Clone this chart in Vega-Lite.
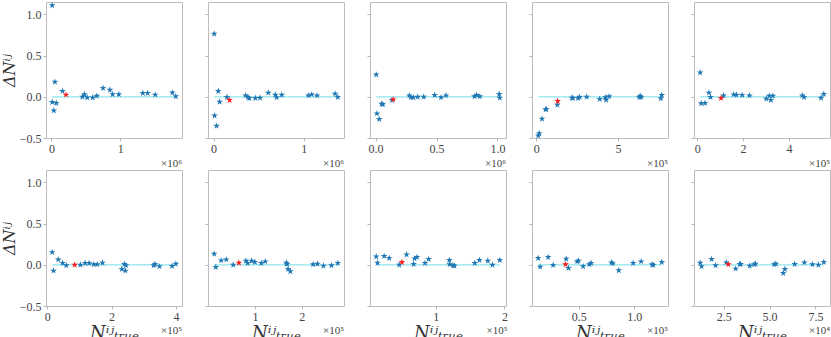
{
"padding":{"left":0,"top":1,"right":2,"bottom":0},
"background":"white",
"config":{
 "view":{"stroke":"#bdbdbd","strokeWidth":1},
 "axis":{"domain":false,"grid":false,"tickColor":"#b5b5b5","tickSize":3,"labelFont":"Liberation Serif","labelFontSize":12,"labelColor":"#444444","labelPadding":2,"titleFont":"DejaVu Serif","titleFontStyle":"italic","titleFontWeight":"normal","titleColor":"#333333","titleFontSize":16},
 "title":{"orient":"bottom","anchor":"end","baseline":"middle","font":"Liberation Serif","fontSize":11,"fontWeight":"normal","color":"#444444","offset":0},
 "point":{"shape":"M0,-1L0.2245,-0.309L0.951,-0.309L0.363,0.118L0.588,0.809L0,0.382L-0.588,0.809L-0.363,0.118L-0.951,-0.309L-0.2245,-0.309Z","filled":true,"size":50,"opacity":1}
},
"datasets":{"one":[{"k":1}],"pts":[
{"b":1,"x":10000,"y":1.11,"r":0},{"b":1,"x":50000,"y":0.18,"r":0},{"b":1,"x":10000,"y":-0.065,"r":0},{"b":1,"x":70000,"y":-0.077,"r":0},{"b":1,"x":34000,"y":-0.167,"r":0},{"b":1,"x":160000,"y":0.07,"r":0},{"b":1,"x":210000,"y":0.025,"r":1},{"b":1,"x":450000,"y":0.0,"r":0},{"b":1,"x":480000,"y":0.03,"r":0},{"b":1,"x":520000,"y":-0.01,"r":0},{"b":1,"x":600000,"y":-0.01,"r":0},{"b":1,"x":660000,"y":0.01,"r":0},{"b":1,"x":750000,"y":0.105,"r":0},{"b":1,"x":850000,"y":0.085,"r":0},{"b":1,"x":890000,"y":0.03,"r":0},{"b":1,"x":980000,"y":0.03,"r":0},{"b":1,"x":1330000,"y":0.045,"r":0},{"b":1,"x":1400000,"y":0.045,"r":0},{"b":1,"x":1510000,"y":0.025,"r":0},{"b":1,"x":1760000,"y":0.05,"r":0},{"b":1,"x":1810000,"y":0.005,"r":0},
{"b":2,"x":7000,"y":0.764,"r":0},{"b":2,"x":52000,"y":0.069,"r":0},{"b":2,"x":67000,"y":-0.061,"r":0},{"b":2,"x":11000,"y":-0.228,"r":0},{"b":2,"x":33000,"y":-0.354,"r":0},{"b":2,"x":148000,"y":-0.004,"r":0},{"b":2,"x":178000,"y":-0.041,"r":1},{"b":2,"x":356000,"y":0.016,"r":0},{"b":2,"x":381000,"y":-0.004,"r":0},{"b":2,"x":396000,"y":-0.02,"r":0},{"b":2,"x":463000,"y":-0.016,"r":0},{"b":2,"x":515000,"y":-0.012,"r":0},{"b":2,"x":607000,"y":0.049,"r":0},{"b":2,"x":685000,"y":0.024,"r":0},{"b":2,"x":700000,"y":-0.008,"r":0},{"b":2,"x":756000,"y":0.024,"r":0},{"b":2,"x":1052000,"y":0.016,"r":0},{"b":2,"x":1089000,"y":0.028,"r":0},{"b":2,"x":1148000,"y":0.016,"r":0},{"b":2,"x":1348000,"y":0.037,"r":0},{"b":2,"x":1378000,"y":-0.004,"r":0},
{"b":3,"x":5000,"y":0.268,"r":0},{"b":3,"x":11000,"y":-0.203,"r":0},{"b":3,"x":30000,"y":-0.272,"r":0},{"b":3,"x":49000,"y":-0.085,"r":0},{"b":3,"x":60000,"y":-0.093,"r":0},{"b":3,"x":134000,"y":-0.041,"r":0},{"b":3,"x":145000,"y":-0.033,"r":1},{"b":3,"x":277000,"y":0.016,"r":0},{"b":3,"x":290000,"y":-0.008,"r":0},{"b":3,"x":310000,"y":-0.008,"r":0},{"b":3,"x":345000,"y":0.0,"r":0},{"b":3,"x":395000,"y":0.0,"r":0},{"b":3,"x":485000,"y":0.02,"r":0},{"b":3,"x":537000,"y":-0.008,"r":0},{"b":3,"x":578000,"y":0.016,"r":0},{"b":3,"x":811000,"y":0.004,"r":0},{"b":3,"x":830000,"y":0.02,"r":0},{"b":3,"x":855000,"y":0.004,"r":0},{"b":3,"x":1014000,"y":0.033,"r":0},{"b":3,"x":1019000,"y":-0.012,"r":0},
{"b":4,"x":12000,"y":-0.472,"r":0},{"b":4,"x":18000,"y":-0.443,"r":0},{"b":4,"x":35000,"y":-0.268,"r":0},{"b":4,"x":57000,"y":-0.154,"r":0},{"b":4,"x":61000,"y":-0.15,"r":0},{"b":4,"x":129000,"y":-0.098,"r":0},{"b":4,"x":131000,"y":-0.053,"r":1},{"b":4,"x":218000,"y":-0.012,"r":0},{"b":4,"x":224000,"y":-0.016,"r":0},{"b":4,"x":255000,"y":-0.016,"r":0},{"b":4,"x":265000,"y":-0.004,"r":0},{"b":4,"x":308000,"y":0.0,"r":0},{"b":4,"x":388000,"y":-0.028,"r":0},{"b":4,"x":422000,"y":-0.008,"r":0},{"b":4,"x":427000,"y":-0.037,"r":0},{"b":4,"x":445000,"y":0.004,"r":0},{"b":4,"x":629000,"y":-0.004,"r":0},{"b":4,"x":635000,"y":0.008,"r":0},{"b":4,"x":641000,"y":-0.004,"r":0},{"b":4,"x":761000,"y":-0.02,"r":0},{"b":4,"x":767000,"y":0.02,"r":0},
{"b":5,"x":13000,"y":0.293,"r":0},{"b":5,"x":17500,"y":-0.081,"r":0},{"b":5,"x":34000,"y":-0.077,"r":0},{"b":5,"x":51000,"y":0.049,"r":0},{"b":5,"x":58000,"y":-0.004,"r":0},{"b":5,"x":104000,"y":-0.016,"r":1},{"b":5,"x":115000,"y":0.016,"r":0},{"b":5,"x":159000,"y":0.028,"r":0},{"b":5,"x":171000,"y":0.024,"r":0},{"b":5,"x":196000,"y":0.02,"r":0},{"b":5,"x":228000,"y":0.016,"r":0},{"b":5,"x":301000,"y":-0.024,"r":0},{"b":5,"x":314000,"y":0.012,"r":0},{"b":5,"x":321000,"y":-0.041,"r":0},{"b":5,"x":330000,"y":0.012,"r":0},{"b":5,"x":458000,"y":0.016,"r":0},{"b":5,"x":466000,"y":-0.004,"r":0},{"b":5,"x":540000,"y":-0.012,"r":0},{"b":5,"x":552000,"y":0.033,"r":0},
{"b":6,"x":15700,"y":0.152,"r":0},{"b":6,"x":19800,"y":-0.072,"r":0},{"b":6,"x":34500,"y":0.064,"r":0},{"b":6,"x":48000,"y":0.02,"r":0},{"b":6,"x":59500,"y":-0.008,"r":0},{"b":6,"x":85600,"y":0.0,"r":1},{"b":6,"x":103400,"y":0.0,"r":0},{"b":6,"x":118000,"y":0.02,"r":0},{"b":6,"x":130500,"y":0.02,"r":0},{"b":6,"x":145000,"y":0.004,"r":0},{"b":6,"x":155600,"y":0.004,"r":0},{"b":6,"x":172000,"y":0.024,"r":0},{"b":6,"x":232000,"y":-0.052,"r":0},{"b":6,"x":240000,"y":0.008,"r":0},{"b":6,"x":243000,"y":-0.072,"r":0},{"b":6,"x":245000,"y":-0.008,"r":0},{"b":6,"x":331000,"y":-0.008,"r":0},{"b":6,"x":335000,"y":0.008,"r":0},{"b":6,"x":349000,"y":-0.02,"r":0},{"b":6,"x":388000,"y":-0.016,"r":0},{"b":6,"x":400000,"y":0.012,"r":0},
{"b":7,"x":12900,"y":0.132,"r":0},{"b":7,"x":16400,"y":-0.028,"r":0},{"b":7,"x":27900,"y":0.052,"r":0},{"b":7,"x":38600,"y":0.064,"r":0},{"b":7,"x":53600,"y":0.0,"r":0},{"b":7,"x":65700,"y":0.024,"r":1},{"b":7,"x":80700,"y":0.048,"r":0},{"b":7,"x":84300,"y":0.02,"r":0},{"b":7,"x":92900,"y":0.048,"r":0},{"b":7,"x":100000,"y":0.032,"r":0},{"b":7,"x":113600,"y":0.02,"r":0},{"b":7,"x":122100,"y":0.04,"r":0},{"b":7,"x":167100,"y":0.024,"r":0},{"b":7,"x":168600,"y":0.008,"r":0},{"b":7,"x":170700,"y":-0.052,"r":0},{"b":7,"x":175700,"y":-0.08,"r":0},{"b":7,"x":224300,"y":0.004,"r":0},{"b":7,"x":233600,"y":0.012,"r":0},{"b":7,"x":246400,"y":-0.012,"r":0},{"b":7,"x":263600,"y":-0.008,"r":0},{"b":7,"x":277100,"y":0.02,"r":0},
{"b":8,"x":13600,"y":0.1,"r":0},{"b":8,"x":15500,"y":0.024,"r":0},{"b":8,"x":25200,"y":0.104,"r":0},{"b":8,"x":32500,"y":0.08,"r":0},{"b":8,"x":47100,"y":0.0,"r":0},{"b":8,"x":51000,"y":0.032,"r":1},{"b":8,"x":57800,"y":0.124,"r":0},{"b":8,"x":68000,"y":0.008,"r":0},{"b":8,"x":69400,"y":0.076,"r":0},{"b":8,"x":72800,"y":0.092,"r":0},{"b":8,"x":84500,"y":0.02,"r":0},{"b":8,"x":89800,"y":0.068,"r":0},{"b":8,"x":119900,"y":0.056,"r":0},{"b":8,"x":120400,"y":0.004,"r":0},{"b":8,"x":125200,"y":-0.008,"r":0},{"b":8,"x":127200,"y":-0.012,"r":0},{"b":8,"x":156800,"y":0.02,"r":0},{"b":8,"x":163600,"y":0.056,"r":0},{"b":8,"x":175700,"y":0.048,"r":0},{"b":8,"x":182500,"y":0.0,"r":0},{"b":8,"x":193200,"y":0.056,"r":0},
{"b":9,"x":13300,"y":0.08,"r":0},{"b":9,"x":15100,"y":-0.024,"r":0},{"b":9,"x":22300,"y":0.092,"r":0},{"b":9,"x":26800,"y":-0.004,"r":0},{"b":9,"x":38600,"y":0.072,"r":0},{"b":9,"x":38000,"y":0.004,"r":1},{"b":9,"x":40700,"y":-0.04,"r":0},{"b":9,"x":48500,"y":0.04,"r":0},{"b":9,"x":49700,"y":0.048,"r":0},{"b":9,"x":53900,"y":-0.02,"r":0},{"b":9,"x":59600,"y":0.004,"r":0},{"b":9,"x":61100,"y":0.02,"r":0},{"b":9,"x":79500,"y":0.028,"r":0},{"b":9,"x":80700,"y":0.016,"r":0},{"b":9,"x":86100,"y":-0.068,"r":0},{"b":9,"x":99100,"y":0.02,"r":0},{"b":9,"x":106300,"y":0.04,"r":0},{"b":9,"x":116300,"y":0.004,"r":0},{"b":9,"x":117200,"y":-0.004,"r":0},{"b":9,"x":125000,"y":0.032,"r":0},
{"b":10,"x":12230,"y":0.024,"r":0},{"b":10,"x":12960,"y":-0.02,"r":0},{"b":10,"x":18430,"y":0.068,"r":0},{"b":10,"x":20620,"y":-0.008,"r":0},{"b":10,"x":26460,"y":0.028,"r":0},{"b":10,"x":27550,"y":0.004,"r":1},{"b":10,"x":31570,"y":-0.048,"r":0},{"b":10,"x":33760,"y":0.008,"r":0},{"b":10,"x":34300,"y":0.008,"r":0},{"b":10,"x":39230,"y":-0.012,"r":0},{"b":10,"x":41600,"y":0.004,"r":0},{"b":10,"x":42340,"y":0.012,"r":0},{"b":10,"x":52550,"y":0.004,"r":0},{"b":10,"x":53470,"y":0.012,"r":0},{"b":10,"x":57480,"y":-0.1,"r":0},{"b":10,"x":58390,"y":-0.052,"r":0},{"b":10,"x":63690,"y":0.008,"r":0},{"b":10,"x":68980,"y":0.028,"r":0},{"b":10,"x":73360,"y":0.004,"r":0},{"b":10,"x":76640,"y":0.0,"r":0},{"b":10,"x":79560,"y":0.032,"r":0}
]},
"data":{"name":"pts"},
"vconcat":[
{"hconcat":[
{"width":136,"height":136,"title":{"text":"×10⁶"},
 "encoding":{"x":{"field":"x","type":"quantitative","scale":{"domain":[-80000,1900000],"nice":false,"zero":false},"axis":{"values":[0,1000000],"labelExpr":"format(datum.value/1000000,'d')","title":null}},
  "y":{"field":"y","type":"quantitative","scale":{"domain":[-0.5,1.15],"nice":false,"zero":false},"axis":{"values":[-0.5,0,0.5,1],"format":".1f","labels":true,"title":"ΔNⁱʲ","titlePadding":2}}},
 "layer":[
  {"transform":[{"filter":"datum.b==1"}],"mark":{"type":"line","color":"#8ee5ee","strokeWidth":1.2},"encoding":{"y":{"datum":0,"type":"quantitative"}}},
  {"transform":[{"filter":"datum.b==1 && datum.r==0"}],"mark":{"type":"point","color":"#1f77b4"},"encoding":{}},
  {"transform":[{"filter":"datum.b==1 && datum.r==1"}],"mark":{"type":"point","color":"#ff1a1a"},"encoding":{}},
  {"data":{"name":"one"},"mark":{"type":"text","font":"Liberation Serif","fontSize":15,"color":"#333333","baseline":"middle"},"encoding":{"x":{"datum":910000,"type":"quantitative"},"y":{"datum":1.0,"type":"quantitative"},"text":{"value":"Bin 1"}}}
 ]},
{"width":136,"height":136,"title":{"text":"×10⁶"},
 "encoding":{"x":{"field":"x","type":"quantitative","scale":{"domain":[-62000,1447000],"nice":false,"zero":false},"axis":{"values":[0,1000000],"labelExpr":"format(datum.value/1000000,'d')","title":null}},
  "y":{"field":"y","type":"quantitative","scale":{"domain":[-0.5,1.15],"nice":false,"zero":false},"axis":{"values":[-0.5,0,0.5,1],"labels":false,"title":null}}},
 "layer":[
  {"transform":[{"filter":"datum.b==2"}],"mark":{"type":"line","color":"#8ee5ee","strokeWidth":1.2},"encoding":{"y":{"datum":0,"type":"quantitative"}}},
  {"transform":[{"filter":"datum.b==2 && datum.r==0"}],"mark":{"type":"point","color":"#1f77b4"},"encoding":{}},
  {"transform":[{"filter":"datum.b==2 && datum.r==1"}],"mark":{"type":"point","color":"#ff1a1a"},"encoding":{}},
  {"data":{"name":"one"},"mark":{"type":"text","font":"Liberation Serif","fontSize":15,"color":"#333333","baseline":"middle"},"encoding":{"x":{"datum":692500,"type":"quantitative"},"y":{"datum":1.0,"type":"quantitative"},"text":{"value":"Bin 2"}}}
 ]},
{"width":136,"height":136,"title":{"text":"×10⁶"},
 "encoding":{"x":{"field":"x","type":"quantitative","scale":{"domain":[-46000,1070000],"nice":false,"zero":false},"axis":{"values":[0,500000,1000000],"labelExpr":"format(datum.value/1000000,'.1f')","title":null}},
  "y":{"field":"y","type":"quantitative","scale":{"domain":[-0.5,1.15],"nice":false,"zero":false},"axis":{"values":[-0.5,0,0.5,1],"labels":false,"title":null}}},
 "layer":[
  {"transform":[{"filter":"datum.b==3"}],"mark":{"type":"line","color":"#8ee5ee","strokeWidth":1.2},"encoding":{"y":{"datum":0,"type":"quantitative"}}},
  {"transform":[{"filter":"datum.b==3 && datum.r==0"}],"mark":{"type":"point","color":"#1f77b4"},"encoding":{}},
  {"transform":[{"filter":"datum.b==3 && datum.r==1"}],"mark":{"type":"point","color":"#ff1a1a"},"encoding":{}},
  {"data":{"name":"one"},"mark":{"type":"text","font":"Liberation Serif","fontSize":15,"color":"#333333","baseline":"middle"},"encoding":{"x":{"datum":512000,"type":"quantitative"},"y":{"datum":1.0,"type":"quantitative"},"text":{"value":"Bin 3"}}}
 ]},
{"width":136,"height":136,"title":{"text":"×10⁵"},
 "encoding":{"x":{"field":"x","type":"quantitative","scale":{"domain":[-26000,805000],"nice":false,"zero":false},"axis":{"values":[0,500000],"labelExpr":"format(datum.value/100000,'d')","title":null}},
  "y":{"field":"y","type":"quantitative","scale":{"domain":[-0.5,1.15],"nice":false,"zero":false},"axis":{"values":[-0.5,0,0.5,1],"labels":false,"title":null}}},
 "layer":[
  {"transform":[{"filter":"datum.b==4"}],"mark":{"type":"line","color":"#8ee5ee","strokeWidth":1.2},"encoding":{"y":{"datum":0,"type":"quantitative"}}},
  {"transform":[{"filter":"datum.b==4 && datum.r==0"}],"mark":{"type":"point","color":"#1f77b4"},"encoding":{}},
  {"transform":[{"filter":"datum.b==4 && datum.r==1"}],"mark":{"type":"point","color":"#ff1a1a"},"encoding":{}},
  {"data":{"name":"one"},"mark":{"type":"text","font":"Liberation Serif","fontSize":15,"color":"#333333","baseline":"middle"},"encoding":{"x":{"datum":389500,"type":"quantitative"},"y":{"datum":1.0,"type":"quantitative"},"text":{"value":"Bin 4"}}}
 ]},
{"width":136,"height":136,"title":{"text":"×10⁵"},
 "encoding":{"x":{"field":"x","type":"quantitative","scale":{"domain":[-14000,579000],"nice":false,"zero":false},"axis":{"values":[0,200000,400000],"labelExpr":"format(datum.value/100000,'d')","title":null}},
  "y":{"field":"y","type":"quantitative","scale":{"domain":[-0.5,1.15],"nice":false,"zero":false},"axis":{"values":[-0.5,0,0.5,1],"labels":false,"title":null}}},
 "layer":[
  {"transform":[{"filter":"datum.b==5"}],"mark":{"type":"line","color":"#8ee5ee","strokeWidth":1.2},"encoding":{"y":{"datum":0,"type":"quantitative"}}},
  {"transform":[{"filter":"datum.b==5 && datum.r==0"}],"mark":{"type":"point","color":"#1f77b4"},"encoding":{}},
  {"transform":[{"filter":"datum.b==5 && datum.r==1"}],"mark":{"type":"point","color":"#ff1a1a"},"encoding":{}},
  {"data":{"name":"one"},"mark":{"type":"text","font":"Liberation Serif","fontSize":15,"color":"#333333","baseline":"middle"},"encoding":{"x":{"datum":282500,"type":"quantitative"},"y":{"datum":1.0,"type":"quantitative"},"text":{"value":"Bin 5"}}}
 ]}
],"spacing":26,"bounds":"flush"},
{"hconcat":[
{"width":136,"height":136,"title":{"text":"×10⁵","offset":-17},
 "encoding":{"x":{"field":"x","type":"quantitative","scale":{"domain":[-3500,419000],"nice":false,"zero":false},"axis":{"values":[0,200000,400000],"labelExpr":"format(datum.value/100000,'d')","title":"Nⁱʲₜᵣᵤₑ","titleFontSize":18,"titlePadding":2}},
  "y":{"field":"y","type":"quantitative","scale":{"domain":[-0.5,1.15],"nice":false,"zero":false},"axis":{"values":[-0.5,0,0.5,1],"format":".1f","labels":true,"title":"ΔNⁱʲ","titlePadding":2}}},
 "layer":[
  {"transform":[{"filter":"datum.b==6"}],"mark":{"type":"line","color":"#8ee5ee","strokeWidth":1.2},"encoding":{"y":{"datum":0,"type":"quantitative"}}},
  {"transform":[{"filter":"datum.b==6 && datum.r==0"}],"mark":{"type":"point","color":"#1f77b4"},"encoding":{}},
  {"transform":[{"filter":"datum.b==6 && datum.r==1"}],"mark":{"type":"point","color":"#ff1a1a"},"encoding":{}},
  {"data":{"name":"one"},"mark":{"type":"text","font":"Liberation Serif","fontSize":15,"color":"#333333","baseline":"middle"},"encoding":{"x":{"datum":207750,"type":"quantitative"},"y":{"datum":1.0,"type":"quantitative"},"text":{"value":"Bin 6"}}}
 ]},
{"width":136,"height":136,"title":{"text":"×10⁵","offset":-17},
 "encoding":{"x":{"field":"x","type":"quantitative","scale":{"domain":[-300,290300],"nice":false,"zero":false},"axis":{"values":[100000,200000],"labelExpr":"format(datum.value/100000,'d')","title":"Nⁱʲₜᵣᵤₑ","titleFontSize":18,"titlePadding":2}},
  "y":{"field":"y","type":"quantitative","scale":{"domain":[-0.5,1.15],"nice":false,"zero":false},"axis":{"values":[-0.5,0,0.5,1],"labels":false,"title":null}}},
 "layer":[
  {"transform":[{"filter":"datum.b==7"}],"mark":{"type":"line","color":"#8ee5ee","strokeWidth":1.2},"encoding":{"y":{"datum":0,"type":"quantitative"}}},
  {"transform":[{"filter":"datum.b==7 && datum.r==0"}],"mark":{"type":"point","color":"#1f77b4"},"encoding":{}},
  {"transform":[{"filter":"datum.b==7 && datum.r==1"}],"mark":{"type":"point","color":"#ff1a1a"},"encoding":{}},
  {"data":{"name":"one"},"mark":{"type":"text","font":"Liberation Serif","fontSize":15,"color":"#333333","baseline":"middle"},"encoding":{"x":{"datum":145000,"type":"quantitative"},"y":{"datum":1.0,"type":"quantitative"},"text":{"value":"Bin 7"}}}
 ]},
{"width":136,"height":136,"title":{"text":"×10⁵","offset":-17},
 "encoding":{"x":{"field":"x","type":"quantitative","scale":{"domain":[4600,202200],"nice":false,"zero":false},"axis":{"values":[100000,200000],"labelExpr":"format(datum.value/100000,'d')","title":"Nⁱʲₜᵣᵤₑ","titleFontSize":18,"titlePadding":2}},
  "y":{"field":"y","type":"quantitative","scale":{"domain":[-0.5,1.15],"nice":false,"zero":false},"axis":{"values":[-0.5,0,0.5,1],"labels":false,"title":null}}},
 "layer":[
  {"transform":[{"filter":"datum.b==8"}],"mark":{"type":"line","color":"#8ee5ee","strokeWidth":1.2},"encoding":{"y":{"datum":0,"type":"quantitative"}}},
  {"transform":[{"filter":"datum.b==8 && datum.r==0"}],"mark":{"type":"point","color":"#1f77b4"},"encoding":{}},
  {"transform":[{"filter":"datum.b==8 && datum.r==1"}],"mark":{"type":"point","color":"#ff1a1a"},"encoding":{}},
  {"data":{"name":"one"},"mark":{"type":"text","font":"Liberation Serif","fontSize":15,"color":"#333333","baseline":"middle"},"encoding":{"x":{"datum":103400,"type":"quantitative"},"y":{"datum":1.0,"type":"quantitative"},"text":{"value":"Bin 8"}}}
 ]},
{"width":136,"height":136,"title":{"text":"×10⁵","offset":-17},
 "encoding":{"x":{"field":"x","type":"quantitative","scale":{"domain":[7700,130600],"nice":false,"zero":false},"axis":{"values":[50000,100000],"labelExpr":"format(datum.value/100000,'.1f')","title":"Nⁱʲₜᵣᵤₑ","titleFontSize":18,"titlePadding":2}},
  "y":{"field":"y","type":"quantitative","scale":{"domain":[-0.5,1.15],"nice":false,"zero":false},"axis":{"values":[-0.5,0,0.5,1],"labels":false,"title":null}}},
 "layer":[
  {"transform":[{"filter":"datum.b==9"}],"mark":{"type":"line","color":"#8ee5ee","strokeWidth":1.2},"encoding":{"y":{"datum":0,"type":"quantitative"}}},
  {"transform":[{"filter":"datum.b==9 && datum.r==0"}],"mark":{"type":"point","color":"#1f77b4"},"encoding":{}},
  {"transform":[{"filter":"datum.b==9 && datum.r==1"}],"mark":{"type":"point","color":"#ff1a1a"},"encoding":{}},
  {"data":{"name":"one"},"mark":{"type":"text","font":"Liberation Serif","fontSize":15,"color":"#333333","baseline":"middle"},"encoding":{"x":{"datum":69150,"type":"quantitative"},"y":{"datum":1.0,"type":"quantitative"},"text":{"value":"Bin 9"}}}
 ]},
{"width":136,"height":136,"title":{"text":"×10⁴","offset":-17},
 "encoding":{"x":{"field":"x","type":"quantitative","scale":{"domain":[8860,82930],"nice":false,"zero":false},"axis":{"values":[25000,50000,75000],"labelExpr":"format(datum.value/10000,'.1f')","title":"Nⁱʲₜᵣᵤₑ","titleFontSize":18,"titlePadding":2}},
  "y":{"field":"y","type":"quantitative","scale":{"domain":[-0.5,1.15],"nice":false,"zero":false},"axis":{"values":[-0.5,0,0.5,1],"labels":false,"title":null}}},
 "layer":[
  {"transform":[{"filter":"datum.b==10"}],"mark":{"type":"line","color":"#8ee5ee","strokeWidth":1.2},"encoding":{"y":{"datum":0,"type":"quantitative"}}},
  {"transform":[{"filter":"datum.b==10 && datum.r==0"}],"mark":{"type":"point","color":"#1f77b4"},"encoding":{}},
  {"transform":[{"filter":"datum.b==10 && datum.r==1"}],"mark":{"type":"point","color":"#ff1a1a"},"encoding":{}},
  {"data":{"name":"one"},"mark":{"type":"text","font":"Liberation Serif","fontSize":15,"color":"#333333","baseline":"middle"},"encoding":{"x":{"datum":45895,"type":"quantitative"},"y":{"datum":1.0,"type":"quantitative"},"text":{"value":"Bin 10"}}}
 ]}
],"spacing":26,"bounds":"flush"}
],"spacing":-7
}
